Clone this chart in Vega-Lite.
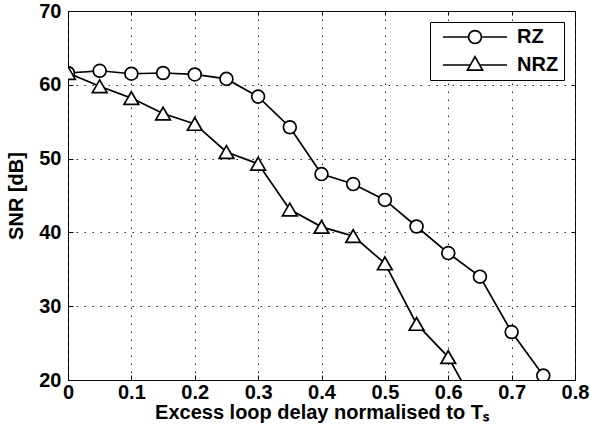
{
  "$schema": "https://vega.github.io/schema/vega-lite/v6.json",
  "width": 507,
  "height": 369,
  "autosize": "none",
  "padding": {"left": 68, "top": 11, "right": 15, "bottom": 65},
  "background": "white",
  "data": {"values": [
    {"x": 0.0, "snr": 61.6, "series": "RZ"},
    {"x": 0.05, "snr": 61.9, "series": "RZ"},
    {"x": 0.1, "snr": 61.5, "series": "RZ"},
    {"x": 0.15, "snr": 61.6, "series": "RZ"},
    {"x": 0.2, "snr": 61.4, "series": "RZ"},
    {"x": 0.25, "snr": 60.8, "series": "RZ"},
    {"x": 0.3, "snr": 58.4, "series": "RZ"},
    {"x": 0.35, "snr": 54.25, "series": "RZ"},
    {"x": 0.4, "snr": 47.9, "series": "RZ"},
    {"x": 0.45, "snr": 46.55, "series": "RZ"},
    {"x": 0.5, "snr": 44.4, "series": "RZ"},
    {"x": 0.55, "snr": 40.8, "series": "RZ"},
    {"x": 0.6, "snr": 37.2, "series": "RZ"},
    {"x": 0.65, "snr": 34.0, "series": "RZ"},
    {"x": 0.7, "snr": 26.5, "series": "RZ"},
    {"x": 0.75, "snr": 20.6, "series": "RZ"},
    {"x": 0.0, "snr": 61.6, "series": "NRZ"},
    {"x": 0.05, "snr": 59.8, "series": "NRZ"},
    {"x": 0.1, "snr": 58.2, "series": "NRZ"},
    {"x": 0.15, "snr": 56.1, "series": "NRZ"},
    {"x": 0.2, "snr": 54.7, "series": "NRZ"},
    {"x": 0.25, "snr": 50.9, "series": "NRZ"},
    {"x": 0.3, "snr": 49.3, "series": "NRZ"},
    {"x": 0.35, "snr": 43.1, "series": "NRZ"},
    {"x": 0.4, "snr": 40.75, "series": "NRZ"},
    {"x": 0.45, "snr": 39.5, "series": "NRZ"},
    {"x": 0.5, "snr": 35.8, "series": "NRZ"},
    {"x": 0.55, "snr": 27.6, "series": "NRZ"},
    {"x": 0.6, "snr": 23.1, "series": "NRZ"},
    {"x": 0.65, "snr": 15.4, "series": "NRZ"}
  ]},
  "config": {
    "font": "Liberation Sans",
    "view": {"stroke": "black", "strokeWidth": 1},
    "axis": {
      "domain": false,
      "grid": true,
      "gridColor": "#222",
      "gridDash": [1.5, 6.5],
      "gridWidth": 1,
      "ticks": true,
      "tickColor": "black",
      "tickSize": -5,
      "labelFont": "Liberation Sans",
      "labelFontWeight": "bold",
      "labelFontSize": 20,
      "labelColor": "black",
      "titleFont": "Liberation Sans",
      "titleFontWeight": "bold",
      "titleFontSize": 20,
      "titleColor": "black"
    }
  },
  "resolve": {"scale": {"shape": "independent"}, "legend": {"shape": "independent"}, "axis": {"x": "independent", "y": "independent"}},
  "layer": [
    {
      "mark": {"type": "line", "color": "black", "strokeWidth": 1.7, "clip": true},
      "encoding": {
        "x": {
          "field": "x", "type": "quantitative",
          "scale": {"domain": [0, 0.8], "nice": false, "zero": false},
          "axis": {"values": [0, 0.1, 0.2, 0.3, 0.4, 0.5, 0.6, 0.7, 0.8], "format": "~g", "labelPadding": 7, "title": "Excess loop delay normalised to Tₛ", "titlePadding": 0, "labelFlush": false}
        },
        "y": {
          "field": "snr", "type": "quantitative",
          "scale": {"domain": [20, 70], "nice": false, "zero": false},
          "axis": {"values": [20, 30, 40, 50, 60, 70], "labelPadding": 12, "title": "SNR [dB]", "titlePadding": 12}
        },
        "detail": {"field": "series"}
      }
    },
    {
      "mark": {"type": "point", "filled": false, "fill": "white", "fillOpacity": 1, "stroke": "black", "strokeWidth": 1.7, "opacity": 1, "clip": true},
      "encoding": {
        "x": {"field": "x", "type": "quantitative", "axis": null},
        "y": {"field": "snr", "type": "quantitative", "axis": null},
        "shape": {
          "field": "series", "type": "nominal",
          "scale": {"domain": ["RZ", "NRZ"], "range": ["circle", "triangle-up"]},
          "legend": null
        },
        "size": {
          "field": "series", "type": "nominal",
          "scale": {"domain": ["RZ", "NRZ"], "range": [165, 215]},
          "legend": null
        }
      }
    },
    {
      "transform": [{"filter": "datum.x > 5"}],
      "mark": {"type": "point", "filled": false, "color": "black", "opacity": 1, "strokeWidth": 1.7},
      "encoding": {
        "x": {"field": "x", "type": "quantitative", "axis": {"orient": "top", "labels": false, "grid": false, "title": null, "values": [0, 0.1, 0.2, 0.3, 0.4, 0.5, 0.6, 0.7, 0.8], "tickSize": -4}},
        "y": {"field": "snr", "type": "quantitative", "axis": {"orient": "right", "labels": false, "grid": false, "title": null, "values": [20, 30, 40, 50, 60, 70], "tickSize": -4}},
        "shape": {
          "field": "series", "type": "nominal",
          "scale": {"domain": ["RZ", "NRZ"], "range": [
            "M-0.25,0H2.95M4.55,0H7.75M4.55,0A0.8,0.8 0 1,1 2.95,0A0.8,0.8 0 1,1 4.55,0",
            "M-0.25,0H3.16M4.34,0H7.75M3.75,-1.04L4.69,0.63L2.81,0.63Z"
          ]},
          "legend": {
            "title": null,
            "orient": "top-right",
            "offset": 11,
            "padding": 5,
            "strokeColor": "black",
            "fillColor": "white",
            "symbolSize": 256,
            "symbolStrokeColor": "black",
            "symbolStrokeWidth": 1.7,
            "symbolFillColor": "transparent",
            "symbolOpacity": 1,
            "labelFont": "Liberation Sans",
            "labelFontWeight": "bold",
            "labelFontSize": 20,
            "labelColor": "black",
            "rowPadding": 6,
            "labelOffset": 62
          }
        }
      }
    }
  ]
}
